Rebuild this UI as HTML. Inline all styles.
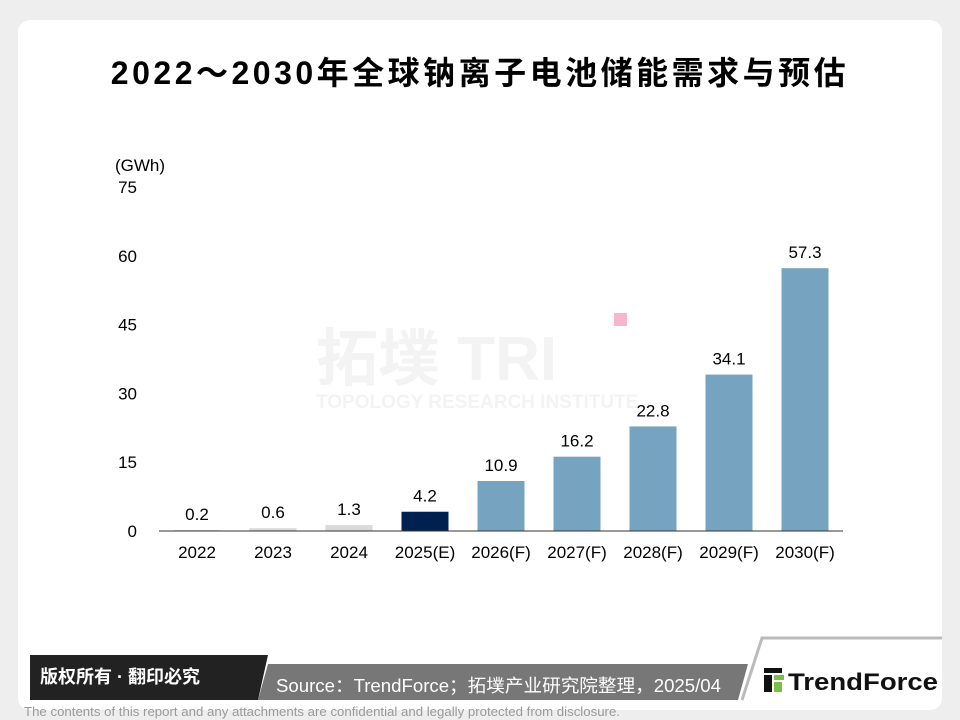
<!DOCTYPE html>
<html><head><meta charset="utf-8">
<style>
body{margin:0;width:960px;height:720px;background:#eeeeee;overflow:hidden;font-family:"Liberation Sans","Noto Sans CJK SC",sans-serif;position:relative}
.card{position:absolute;left:18px;top:20px;width:924px;height:690px;background:#fff;border-radius:12px}
.title{position:absolute;left:0;width:960px;top:48px;text-align:center;font-size:32px;font-weight:bold;color:#000;font-family:"Liberation Sans","Noto Sans CJK SC",sans-serif;letter-spacing:3.5px}
</style></head><body>
<div class="card"></div>
<div class="title">2022～2030年全球钠离子电池储能需求与预估</div>
<svg id="chart" width="960" height="720" style="position:absolute;left:0;top:0">
<text x="316" y="380" font-size="62" font-weight="bold" fill="#f3f3f3">拓墣 TRI</text>
<text x="316" y="408" font-size="19" font-weight="bold" fill="#f3f3f3">TOPOLOGY RESEARCH INSTITUTE</text>
<rect x="614" y="313" width="13" height="13" fill="#f7b6cc"/>
<text x="115" y="171" font-size="17" fill="#000">(GWh)</text>
<g id="plot"></g>
<polygon points="30,655 268,655 258,700 30,700" fill="#222"/>
<text x="40" y="683" font-size="18" font-weight="bold" fill="#fff">版权所有 · 翻印必究</text>
<polygon points="268,664 748,664 738,700 258,700" fill="#777"/>
<text x="276" y="692" font-size="18" fill="#fff" textLength="445" lengthAdjust="spacingAndGlyphs">Source：TrendForce；拓墣产业研究院整理，2025/04</text>
<polygon points="762,638 942,638 942,700 742,700" fill="#fff"/>
<polyline points="742,700 762,638 942,638" fill="none" stroke="#bbb" stroke-width="3"/>
<rect x="764" y="668" width="18" height="5" fill="#111"/>
<rect x="764" y="675" width="8" height="17" fill="#111"/>
<rect x="774" y="675" width="10" height="5" fill="#7ac143"/>
<rect x="774" y="682" width="8" height="10" fill="#7ac143"/>
<text x="788" y="690" font-size="24" font-weight="bold" fill="#111" textLength="150" lengthAdjust="spacingAndGlyphs">TrendForce</text>
<text x="24" y="716" font-size="13" fill="#999" textLength="596" lengthAdjust="spacingAndGlyphs">The contents of this report and any attachments are confidential and legally protected from disclosure.</text>
</svg>
<script>
const categories=["2022","2023","2024","2025(E)","2026(F)","2027(F)","2028(F)","2029(F)","2030(F)"];
const values=[0.2,0.6,1.3,4.2,10.9,16.2,22.8,34.1,57.3];
const labels=["0.2","0.6","1.3","4.2","10.9","16.2","22.8","34.1","57.3"];
const colors=["#d9d9d9","#d9d9d9","#d9d9d9","#002050","#76a3bf","#76a3bf","#76a3bf","#76a3bf","#76a3bf"];
const yTicks=[0,15,30,45,60,75];
const NS="http://www.w3.org/2000/svg";
const g=document.getElementById("plot");
const x0=159,band=76,bw=47,yBase=531,yTop=187,yMax=75;
const y=v=>yBase-(v/yMax)*(yBase-yTop);
const xc=i=>x0+band*i+band/2;
function mk(t,a){const e=document.createElementNS(NS,t);for(const k in a)e.setAttribute(k,a[k]);g.appendChild(e);return e;}
yTicks.forEach(t=>{const e=mk("text",{x:137,y:y(t)+6,"font-size":17,"text-anchor":"end",fill:"#000"});e.textContent=t;

});
values.forEach((v,i)=>{
const r=mk("rect",{x:xc(i)-bw/2,y:y(v),width:bw,height:yBase-y(v),fill:colors[i]});


const l=mk("text",{x:xc(i),y:y(v)-10,"font-size":17,"text-anchor":"middle",fill:"#000"});l.textContent=labels[i];


const c=mk("text",{x:xc(i),y:558,"font-size":17,"text-anchor":"middle",fill:"#000"});c.textContent=categories[i];


});
const ax=mk("line",{x1:x0,x2:x0+band*categories.length,y1:yBase,y2:yBase,stroke:"#333","stroke-width":1});


</script>
</body></html>
